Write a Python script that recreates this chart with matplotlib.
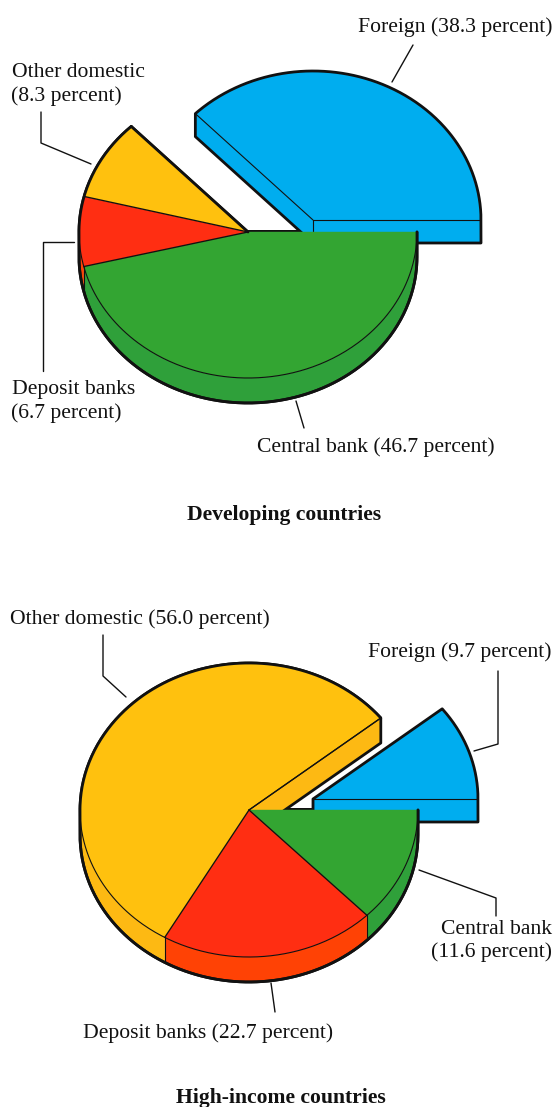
import numpy as np
import matplotlib
matplotlib.use("Agg")
import matplotlib.pyplot as plt
from matplotlib.patches import Polygon

# Shares of each holder, in percent
holders = ["Central bank", "Deposit banks", "Other domestic", "Foreign"]
developing_shares = [46.7, 6.7, 8.3, 38.3]
high_income_shares = [11.6, 22.7, 56.0, 9.7]

TOP_COLORS = ["#33A532", "#FF2E12", "#FFC10E", "#00ADEF"]
SIDE_COLORS = ["#2FA03A", "#FF4205", "#FDB913", "#00ADEF"]
INK = "#111111"
THICK = 2.0
THIN = 0.8

plt.rcParams["font.family"] = ["Liberation Serif", "DejaVu Serif"]

fig = plt.figure(figsize=(5.56, 11.07), dpi=100)
ax = fig.add_axes([0, 0, 1, 1])
ax.set_xlim(0, 556)
ax.set_ylim(1107, 0)
ax.axis("off")


class Disc:
    """Tilted elliptical disc; rays keep their true on-page angle."""

    def __init__(self, cx, cy, rx, ry, depth):
        self.cx, self.cy, self.rx, self.ry, self.depth = cx, cy, rx, ry, depth

    def rim(self, a, down=False):
        t = np.radians(a)
        r = 1 / np.sqrt((np.cos(t) / self.rx) ** 2 + (np.sin(t) / self.ry) ** 2)
        return np.column_stack([self.cx + r * np.cos(t),
                                self.cy - r * np.sin(t) + (self.depth if down else 0)])

    def centre(self, down=False):
        return np.array([[self.cx, self.cy + (self.depth if down else 0)]])

    def sweep(self, lo, hi, n=300):
        a = np.linspace(lo, hi, n)
        return np.union1d(a, [v for v in (180.0, 360.0) if lo <= v <= hi])

    def silhouette(self, lo, hi):
        """Visible rim from lo to hi: lower rim on the front half, upper rim behind."""
        pts = []
        for a in self.sweep(lo, hi):
            pts.append(self.rim(np.array([a]), down=np.sin(np.radians(a)) <= 1e-9))
        return np.vstack(pts)


def line(pts, lw, z, color=INK):
    pts = np.asarray(pts)
    ax.plot(pts[:, 0], pts[:, 1], color=color, lw=lw, zorder=z,
            solid_capstyle="round", solid_joinstyle="round")


def fill(pts, color, z):
    ax.add_patch(Polygon(pts, closed=True, facecolor=color, edgecolor=color,
                         lw=0.3, zorder=z))


def draw_pie(shares, main, foreign):
    central, deposit, other, abroad = shares
    foreign_hi = abroad * 3.6

    # Edge of the main disc seen through the gap; covered wherever another face lies on it
    line(np.vstack([main.centre(), main.rim(np.array([0.0]))]), THICK * 1.8, 1)

    # Foreign slice, pulled away from the rest
    arc = foreign.rim(np.linspace(0, foreign_hi, 200))
    arc_low = foreign.rim(np.linspace(0, foreign_hi, 200), down=True)
    fill(np.vstack([arc, arc_low[::-1]]), SIDE_COLORS[3], 2)
    fill(np.vstack([foreign.centre(), foreign.rim(np.array([0.0])),
                    foreign.rim(np.array([0.0]), True), foreign.centre(True)]), SIDE_COLORS[3], 2)
    hi_visible = np.cos(np.radians(foreign_hi)) < 0
    if hi_visible:
        fill(np.vstack([foreign.centre(), foreign.rim(np.array([foreign_hi])),
                        foreign.rim(np.array([foreign_hi]), True), foreign.centre(True)]),
             SIDE_COLORS[3], 2)
    fill(np.vstack([foreign.centre(), arc]), TOP_COLORS[3], 3)
    outline = [foreign.centre(True), foreign.rim(np.array([0.0]), True),
               foreign.silhouette(0, foreign_hi)]
    if hi_visible:
        outline += [foreign.rim(np.array([foreign_hi]), True), foreign.centre(True)]
        line(np.vstack([foreign.centre(), foreign.rim(np.array([foreign_hi]))]), THIN, 4)
    else:
        outline += [foreign.centre(), foreign.centre(True)]
    line(np.vstack(outline), THICK, 4)
    line(np.vstack([foreign.centre(), foreign.rim(np.array([0.0]))]), THIN, 4)
    line(np.vstack([foreign.centre(), foreign.centre(True)]), THIN, 4)

    # Main disc: slices run clockwise from the right-hand edge
    stops = 360 - np.cumsum([0, central, deposit, other]) * 3.6
    stops[0] = 360.0
    lows = np.append(stops[1:], foreign_hi)
    lo_visible = np.cos(np.radians(foreign_hi)) > 0

    for i in range(3):
        a = np.linspace(lows[i], stops[i], 200)
        fill(np.vstack([main.rim(a), main.rim(a, True)[::-1]]), SIDE_COLORS[i], 5)
    if lo_visible:
        fill(np.vstack([main.centre(), main.rim(np.array([foreign_hi])),
                        main.rim(np.array([foreign_hi]), True), main.centre(True)]),
             SIDE_COLORS[2], 5)

    start = ([main.centre(True), main.rim(np.array([foreign_hi]), True)] if lo_visible
             else [main.centre(), main.rim(np.array([foreign_hi]))])
    rim_line = main.silhouette(foreign_hi, 360.0)
    end = main.rim(np.array([360.0]))
    line(np.vstack(start + [rim_line, end]), THICK, 6)

    for i in range(3):
        a = np.linspace(lows[i], stops[i], 200)
        fill(np.vstack([main.centre(), main.rim(a)]), TOP_COLORS[i], 7)

    # Thin edges of the faces
    a_front = np.linspace(180, 360, 200)
    line(main.rim(a_front), THIN, 8)
    for s in stops[1:]:
        p = main.rim(np.array([s]))
        line(np.vstack([main.centre(), p]), THIN * 1.2, 8)
        if np.sin(np.radians(s)) < 0:
            line(np.vstack([p, main.rim(np.array([s]), True)]), THIN, 8)
    if lo_visible:
        line(np.vstack([main.centre(), main.rim(np.array([foreign_hi]))]), THIN, 8)
    else:
        line(np.vstack([main.centre(), main.rim(np.array([foreign_hi]))]), THICK, 8)

    # Rim strokes go back on top of the faces
    line(np.vstack([rim_line, end]), THICK, 9)


def leader(*pts):
    line(pts, 1.0, 10)


def label(x, y, s, ha="left", weight="normal", size=15.6):
    ax.text(x, y, s, ha=ha, va="baseline", fontsize=size, fontweight=weight,
            color=INK, zorder=11)


draw_pie(developing_shares,
         Disc(248, 232, 169, 146, 25),
         Disc(313, 220, 168, 149, 23))
draw_pie(high_income_shares,
         Disc(249, 810, 169, 147, 25),
         Disc(313, 799, 165, 145, 23))

# Developing countries labels
label(552, 32, f"{holders[3]} ({developing_shares[3]} percent)", ha="right")
leader((413, 45), (392, 82))
label(12, 77, holders[2])
label(11, 101, f"({developing_shares[2]} percent)")
leader((41, 112), (41, 143), (91, 164))
label(12, 394, holders[1])
label(11, 418, f"({developing_shares[1]} percent)")
leader((74, 242), (43, 242), (43, 371))
label(257, 452, f"{holders[0]} ({developing_shares[0]} percent)")
leader((296, 401), (304, 428))
label(284.5, 520, "Developing countries", ha="center", weight="bold")

# High-income countries labels
label(10, 624, f"{holders[2]} ({high_income_shares[2]} percent)")
leader((103, 635), (103, 676), (126, 697))
label(552, 657, f"{holders[3]} ({high_income_shares[3]} percent)", ha="right")
leader((498, 671), (498, 744), (474, 751))
label(552, 934, holders[0], ha="right")
label(552, 957, f"({high_income_shares[0]} percent)", ha="right")
leader((419, 870), (496, 898), (496, 916))
label(83, 1038, f"{holders[1]} ({high_income_shares[1]} percent)")
leader((271, 983), (275, 1012))
label(281, 1103, "High-income countries", ha="center", weight="bold")

fig.savefig("out.png", dpi=100, facecolor="white")
